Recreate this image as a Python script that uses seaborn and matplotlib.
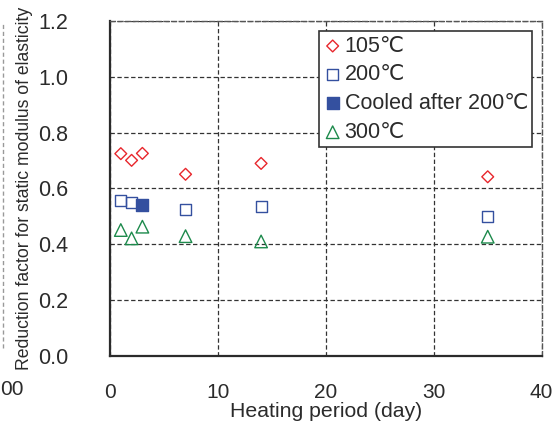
import matplotlib
matplotlib.use("Agg")
import matplotlib.pyplot as plt
from matplotlib.lines import Line2D
import seaborn as sns
import pandas as pd

# Heating periods (days) and reduction factors for the static modulus of elasticity
days = [1, 2, 3, 7, 14, 35]
r_105 = [0.725, 0.701, 0.726, 0.651, 0.690, 0.642]
days_200 = [1, 2, 7, 14, 35]
r_200 = [0.556, 0.550, 0.524, 0.535, 0.500]
days_cooled = [3]
r_cooled = [0.540]
r_300 = [0.451, 0.421, 0.463, 0.429, 0.410, 0.427]

xticks = [0, 10, 20, 30, 40]
yticks = [0.0, 0.2, 0.4, 0.6, 0.8, 1.0, 1.2]

sns.set_theme(style="white")
plt.rcParams["font.family"] = ["Liberation Sans", "DejaVu Sans"]

RED = "#e8262c"
BLUE = "#34509f"
GREEN = "#1d8a4c"
INK = "#2b2b2b"
FS = 15

fig = plt.figure(figsize=(5.57, 4.30), dpi=100)
ax = fig.add_axes([0.1975, 0.1728, 0.775, 0.7777])

df105 = pd.DataFrame({"day": days, "r": r_105})
df200 = pd.DataFrame({"day": days_200, "r": r_200})
dfc = pd.DataFrame({"day": days_cooled, "r": r_cooled})
df300 = pd.DataFrame({"day": days, "r": r_300})

sns.scatterplot(data=df105, x="day", y="r", ax=ax, marker="D", s=36,
                facecolor="none", edgecolor=RED, linewidth=1.0, label="105\u2103", zorder=3)
sns.scatterplot(data=df200, x="day", y="r", ax=ax, marker="s", s=64,
                facecolor="none", edgecolor=BLUE, linewidth=1.0, label="200\u2103", zorder=3)
sns.scatterplot(data=dfc, x="day", y="r", ax=ax, marker="s", s=64,
                color=BLUE, edgecolor=BLUE, linewidth=1.0,
                label="Cooled after 200\u2103", zorder=4)
sns.scatterplot(data=df300, x="day", y="r", ax=ax, marker="^", s=82,
                facecolor="none", edgecolor=GREEN, linewidth=1.0, label="300\u2103", zorder=3)

ax.set_xlim(0, 40)
ax.set_ylim(0, 1.2)
ax.set_xticks(xticks)
ax.set_yticks(yticks)
ax.set_xticklabels([str(t) for t in xticks], fontsize=FS, color=INK)
ax.set_yticklabels([f"{t:.1f}" for t in yticks], fontsize=15.5, color=INK)
ax.tick_params(axis="both", direction="in", length=4, width=1.0, color=INK)
ax.tick_params(axis="x", pad=20)
ax.tick_params(axis="y", pad=30)

ax.grid(True, linestyle=(0, (3.5, 2)), linewidth=0.9, color="#333333")
ax.set_axisbelow(True)

for side in ("left", "bottom"):
    ax.spines[side].set_color(INK)
    ax.spines[side].set_linewidth(1.6)
for side in ("top", "right"):
    ax.spines[side].set_color("#555555")
    ax.spines[side].set_linewidth(1.0)
    ax.spines[side].set_linestyle((0, (3.5, 2)))

ax.set_xlabel("Heating period (day)", fontsize=15.3, color=INK, labelpad=0)
ax.set_ylabel("Reduction factor for static modulus of elasticity", fontsize=12.7,
              color=INK, labelpad=4)

leg = ax.legend(loc="upper right", bbox_to_anchor=(0.978, 0.97), fontsize=15.5,
                frameon=True, fancybox=False, handletextpad=0.1, handlelength=0.9,
                borderpad=0.2, labelspacing=0.36, borderaxespad=0.0)
leg.get_frame().set_edgecolor("#333333")
leg.get_frame().set_linewidth(1.2)
leg.get_frame().set_alpha(1)
for t in leg.get_texts():
    t.set_color(INK)

# neighbouring panel edge and its last tick label
fig.add_artist(Line2D([0.006, 0.006], [0.19, 0.95], transform=fig.transFigure,
                      color="#999999", linewidth=1.0, linestyle=(0, (3, 2))))
fig.text(0.0, 0.095, "00", fontsize=FS, color=INK, ha="left", va="center")

fig.savefig("out.png", dpi=100)
